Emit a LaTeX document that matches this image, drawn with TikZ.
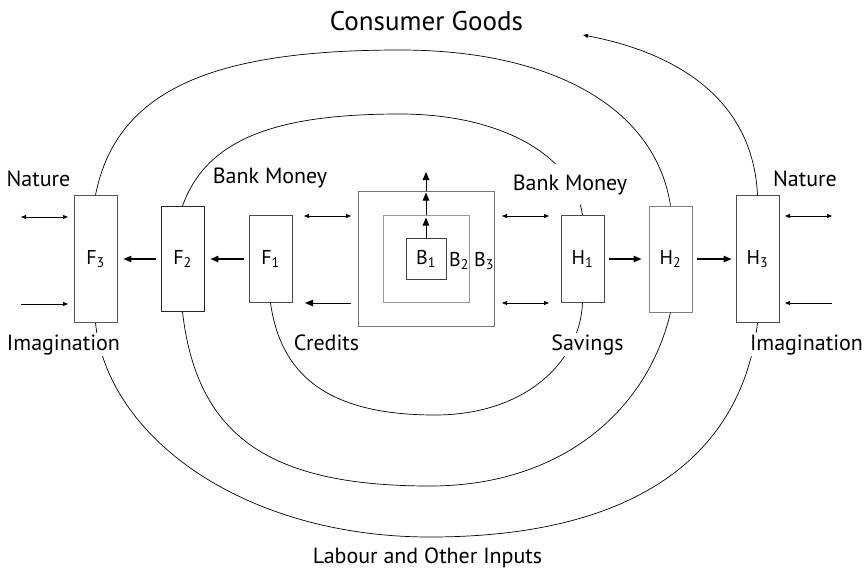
\documentclass[tikz,border=0pt]{standalone}
\usepackage{fontspec}
\setmainfont{PT Sans}
\usetikzlibrary{arrows.meta}
\begin{document}
\begin{tikzpicture}[x=1pt,y=-1pt,
  lbl/.style={font=\fontsize{22}{24}\selectfont, inner sep=1pt, anchor=base},
  cover/.style={lbl, fill=white},
  box/.style={draw=black!70, line width=0.9pt, minimum width=43pt, inner sep=0pt, font=\fontsize{20}{22}\selectfont},
  sq/.style={draw=#1, line width=0.9pt, inner sep=0pt},
  flow/.style={line width=0.7pt},
  bigarr/.style={line width=1.1pt, -{Triangle[length=8pt,width=6.5pt]}},
  smallarr/.style={line width=0.7pt, -{Triangle[length=5pt,width=4pt]}},
  dblarr/.style={line width=0.7pt, {Triangle[length=5pt,width=4pt]}-{Triangle[length=5pt,width=4pt]}},
]
\useasboundingbox (0,0) rectangle (868,571);

% boxes
\node[box, minimum height=127pt, draw=black!65] (F3) at (95.5,259) {F\textsubscript{3}};
\node[box, minimum height=105pt, draw=black!85] (F2) at (182.5,259) {F\textsubscript{2}};
\node[box, minimum height=87pt] (F1) at (270.5,259) {F\textsubscript{1}};
\node[box, minimum height=87pt] (H1) at (582.5,259) {H\textsubscript{1}};
\node[box, minimum height=106pt, draw=black!50] (H2) at (670.5,259) {H\textsubscript{2}};
\node[box, minimum height=127pt] (H3) at (757.5,259) {H\textsubscript{3}};

\node[sq=black!55, minimum width=136pt, minimum height=135pt] (B3) at (426,258.5) {};
\node[sq=black!40, minimum width=86pt, minimum height=87pt] (B2) at (426,258.5) {};
\node[sq=black!75, minimum width=40pt, minimum height=41pt, font=\fontsize{20}{22}\selectfont] (B1) at (426,258.5) {B\textsubscript{1}};
\node[lbl, font=\fontsize{20}{22}\selectfont] (b2l) at (459,266) {B\textsubscript{2}};
\node[lbl, font=\fontsize{20}{22}\selectfont] (b3l) at (484,266) {B\textsubscript{3}};

% chain arrows
\draw[bigarr, shorten <=5pt, shorten >=6pt] (F1) -- (F2);
\draw[bigarr, shorten <=5pt, shorten >=6pt] (F2) -- (F3);
\draw[bigarr, shorten <=5pt, shorten >=7pt] (H1) -- (H2);
\draw[bigarr, shorten <=5pt, shorten >=4pt] (H2) -- (H3);

% up arrows
\coordinate (up) at (426,172);
\draw[bigarr, line width=1pt, shorten >=3pt] (B1.north) -- (B2.north);
\draw[bigarr, line width=1pt, shorten >=2pt] (B2.north) -- (B3.north);
\draw[bigarr, line width=1pt] (B3.north) -- (up);

% side arrows
\coordinate (nl1) at (21,217); \coordinate (nl2) at (68,217);
\coordinate (il1) at (21,304); \coordinate (il2) at (68,304);
\coordinate (nr1) at (785,216); \coordinate (nr2) at (832,216);
\coordinate (ir1) at (785,303); \coordinate (ir2) at (832,303);
\coordinate (cl1) at (304,216); \coordinate (cl2) at (351,216);
\coordinate (cb1) at (305,303); \coordinate (cb2) at (351,303);
\coordinate (cr1) at (502,216); \coordinate (cr2) at (549,216);
\coordinate (cs1) at (502,303); \coordinate (cs2) at (549,303);
\draw[dblarr] (nl1) -- (nl2);
\draw[smallarr] (il1) -- (il2);
\draw[dblarr] (nr1) -- (nr2);
\draw[smallarr] (ir2) -- (ir1);
\draw[dblarr] (cl1) -- (cl2);
\draw[bigarr, line width=1pt] (cb2) -- (cb1);
\draw[dblarr] (cr1) -- (cr2);
\draw[dblarr] (cs1) -- (cs2);

% arcs
\draw[flow] (F3.north) .. controls (117,86) and (220,50) .. (400,50) .. controls (550,50) and (655,106) .. (H2.north);
\draw[flow] (F2.north) .. controls (207,137) and (280,114) .. (400,114) .. controls (500,114) and (574,155) .. (H1.north);
\coordinate (cg) at (583,35);
\draw[flow, -{Triangle[length=5pt,width=4pt]}] (H3.north) .. controls (753,100) and (678,53) .. (cg);
\draw[flow] (F1.south) .. controls (280.5,373) and (325,415) .. (435,415) .. controls (525,415) and (580,362) .. (H1.south);
\draw[flow] (F2.south) .. controls (197,437) and (270,486) .. (430,486) .. controls (560,486) and (647,412) .. (H2.south);
\draw[flow] (F3.south) .. controls (107.5,438) and (245,537) .. (430,537) .. controls (640,537) and (742,452) .. (H3.south);

% labels
\node[lbl] (natl) at (38.5,186) {Nature};
\node[lbl] (natr) at (805,186) {Nature};
\node[lbl] (bml) at (270,183) {Bank Money};
\node[cover, inner ysep=10pt] (bmr) at (570,190) {Bank Money};
\node[cover] (iml) at (63.5,350) {Imagination};
\node[cover] (imr) at (806.5,350) {Imagination};
\node[lbl] (cred) at (326.5,350) {Credits};
\node[cover] (sav) at (587.5,350) {Savings};
\node[lbl, font=\fontsize{27}{30}\selectfont] (cons) at (426.5,30) {Consumer Goods};
\node[lbl] (lab) at (427.5,563) {Labour and Other Inputs};
\end{tikzpicture}
\end{document}
